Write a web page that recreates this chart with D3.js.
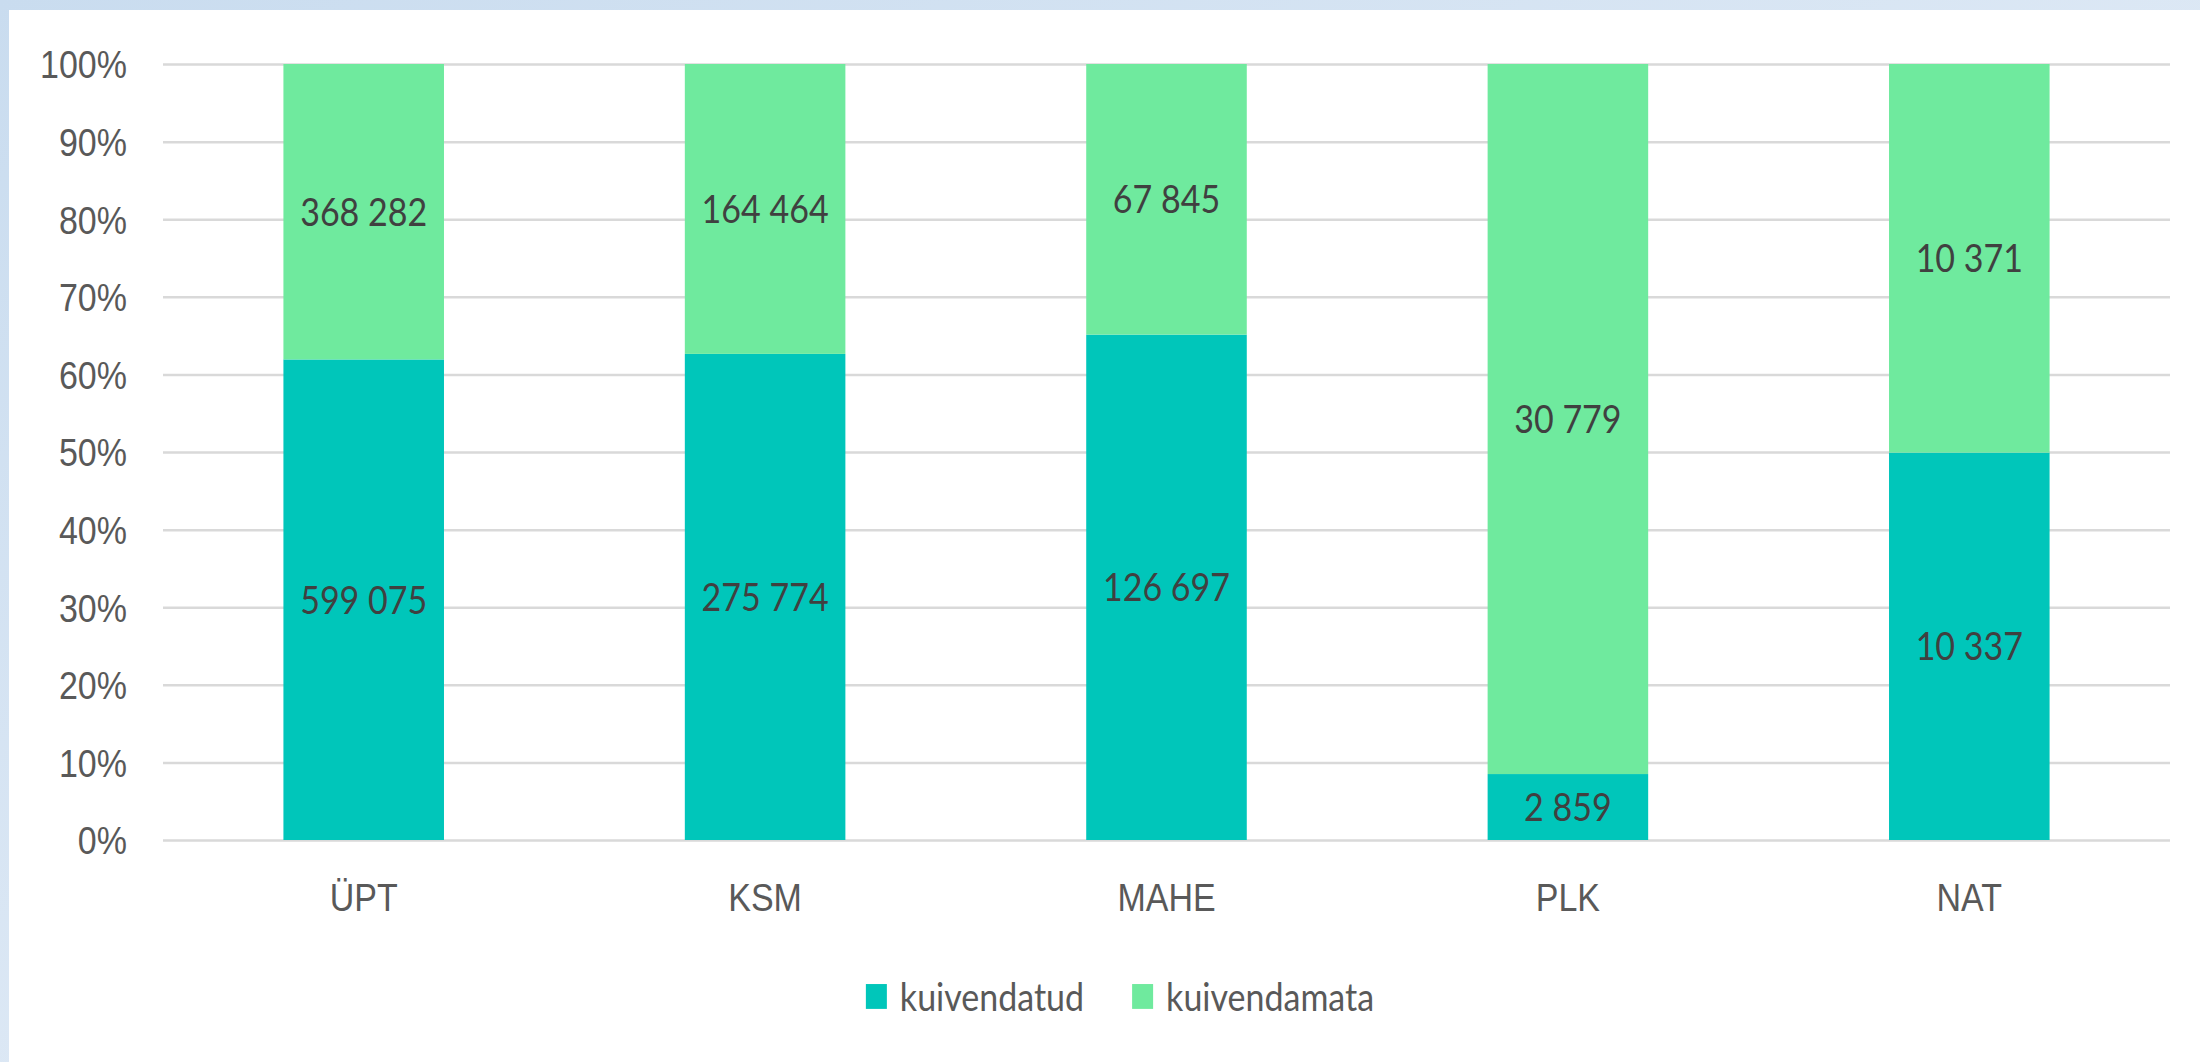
<!DOCTYPE html>
<html>
<head>
<meta charset="utf-8">
<script src="https://cdn.jsdelivr.net/npm/d3@7"></script>
<style>
  html, body { margin: 0; padding: 0; background: #fff; overflow: hidden; }
  #chart { display: block; font-family: Lato, "Open Sans", sans-serif; }
  .axis text { fill: #595959; font-size: 34px; }
  .axis .domain { display: none; }
  .grid line { stroke: #d9d9d9; stroke-width: 2.2; }
  .value { fill: #404040; font-size: 34px; }
  .legend text { fill: #595959; font-size: 34px; }
</style>
</head>
<body>
<svg id="chart"></svg>
<script>
var categories = ["ÜPT", "KSM", "MAHE", "PLK", "NAT"];
var seriesNames = ["kuivendatud", "kuivendamata"];
var kuivendatud = [599075, 275774, 126697, 2859, 10337];
var kuivendamata = [368282, 164464, 67845, 30779, 10371];
var yTicks = [0, 0.1, 0.2, 0.3, 0.4, 0.5, 0.6, 0.7, 0.8, 0.9, 1];
var colors = ["#00c6ba", "#6fea9e"];

(function drawChart() {
  // the picture is a bit stretched vertically, so draw in a shorter box and let it stretch
  var outW = 2200, outH = 1062,
    vbH = 940,
    k = outH / vbH;

  var svg = d3.select("#chart")
    .attr("width", outW)
    .attr("height", outH)
    .attr("viewBox", "0 0 " + outW + " " + vbH)
    .attr("preserveAspectRatio", "none");

  // light blue frame
  var grad = svg.append("defs").append("linearGradient")
    .attr("id", "frame").attr("x1", 0).attr("y1", 0).attr("x2", 1).attr("y2", 1);
  grad.append("stop").attr("offset", 0).attr("stop-color", "#c9dcef");
  grad.append("stop").attr("offset", 1).attr("stop-color", "#eef3fa");
  svg.append("rect").attr("width", outW).attr("height", vbH).attr("fill", "url(#frame)");
  svg.append("rect").attr("x", 9).attr("y", 10 / k)
    .attr("width", outW - 9).attr("height", vbH).attr("fill", "#fff");

  var margin = { left: 163, right: 30, top: 64 / k, bottom: vbH - 840 / k },
    width = outW - margin.left - margin.right,
    height = vbH - margin.top - margin.bottom;

  var g = svg.append("g")
    .attr("transform", "translate(" + margin.left + "," + margin.top + ")");

  var rows = categories.map(function (c, i) {
    return { name: c, kuivendatud: kuivendatud[i], kuivendamata: kuivendamata[i] };
  });

  var xScale = d3.scaleBand().domain(categories).range([0, width])
    .paddingInner(0.6).paddingOuter(0.3);
  var yScale = d3.scaleLinear().domain([0, 1]).range([height, 0]);

  // grid + y labels
  g.append("g")
    .attr("class", "axis grid")
    .call(d3.axisLeft(yScale).tickValues(yTicks)
      .tickFormat(d3.format(".0%")).tickSize(-width).tickPadding(36));
  g.selectAll(".grid text").attr("dy", "0.36em");

  var stacked = d3.stack().keys(seriesNames).offset(d3.stackOffsetExpand)(rows);

  var fmt = d3.formatLocale({ decimal: ",", thousands: " ", grouping: [3], currency: ["", ""] }).format(",d");

  var layer = g.selectAll(".layer")
    .data(stacked)
    .enter().append("g")
    .attr("class", "layer")
    .attr("fill", function (d, i) { return colors[i]; });

  layer.selectAll("rect")
    .data(function (d) { return d; })
    .enter().append("rect")
    .attr("x", function (d) { return xScale(d.data.name); })
    .attr("width", xScale.bandwidth())
    .attr("y", function (d) { return yScale(d[1]); })
    .attr("height", function (d) { return yScale(d[0]) - yScale(d[1]); });

  stacked.forEach(function (s) {
    g.selectAll(".value-" + s.index)
      .data(s)
      .enter().append("text")
      .attr("class", "value")
      .attr("text-anchor", "middle")
      .attr("x", function (d) { return xScale(d.data.name) + xScale.bandwidth() / 2; })
      .attr("y", function (d) { return yScale((d[0] + d[1]) / 2); })
      .attr("dy", "0.36em")
      .text(function (d) { return fmt(d.data[s.key]); });
  });

  // x axis labels
  g.append("g")
    .attr("class", "axis")
    .attr("transform", "translate(0," + height + ")")
    .call(d3.axisBottom(xScale).tickSize(0).tickPadding(0))
    .selectAll("text")
    .attr("dy", null)
    .attr("y", 911 / k - (margin.top + height));

  // legend
  var legend = svg.append("g").attr("class", "legend");
  var item = legend.selectAll(".item")
    .data(seriesNames)
    .enter().append("g")
    .attr("class", "item");
  item.append("rect")
    .attr("width", 21).attr("height", 22)
    .attr("y", 871)
    .attr("fill", function (d, i) { return colors[i]; });
  item.append("text")
    .attr("x", 34)
    .attr("y", 895)
    .text(function (d) { return d; });

  var offset = 0, widths = [];
  item.each(function () {
    var w = 34 + d3.select(this).select("text").node().getComputedTextLength();
    widths.push(w);
  });
  var total = d3.sum(widths) + 48 * (widths.length - 1);
  var startX = 1120 - total / 2;
  item.attr("transform", function (d, i) {
    var x = startX + offset;
    offset += widths[i] + 48;
    return "translate(" + x + ",0)";
  });
})();
</script>
</body>
</html>
